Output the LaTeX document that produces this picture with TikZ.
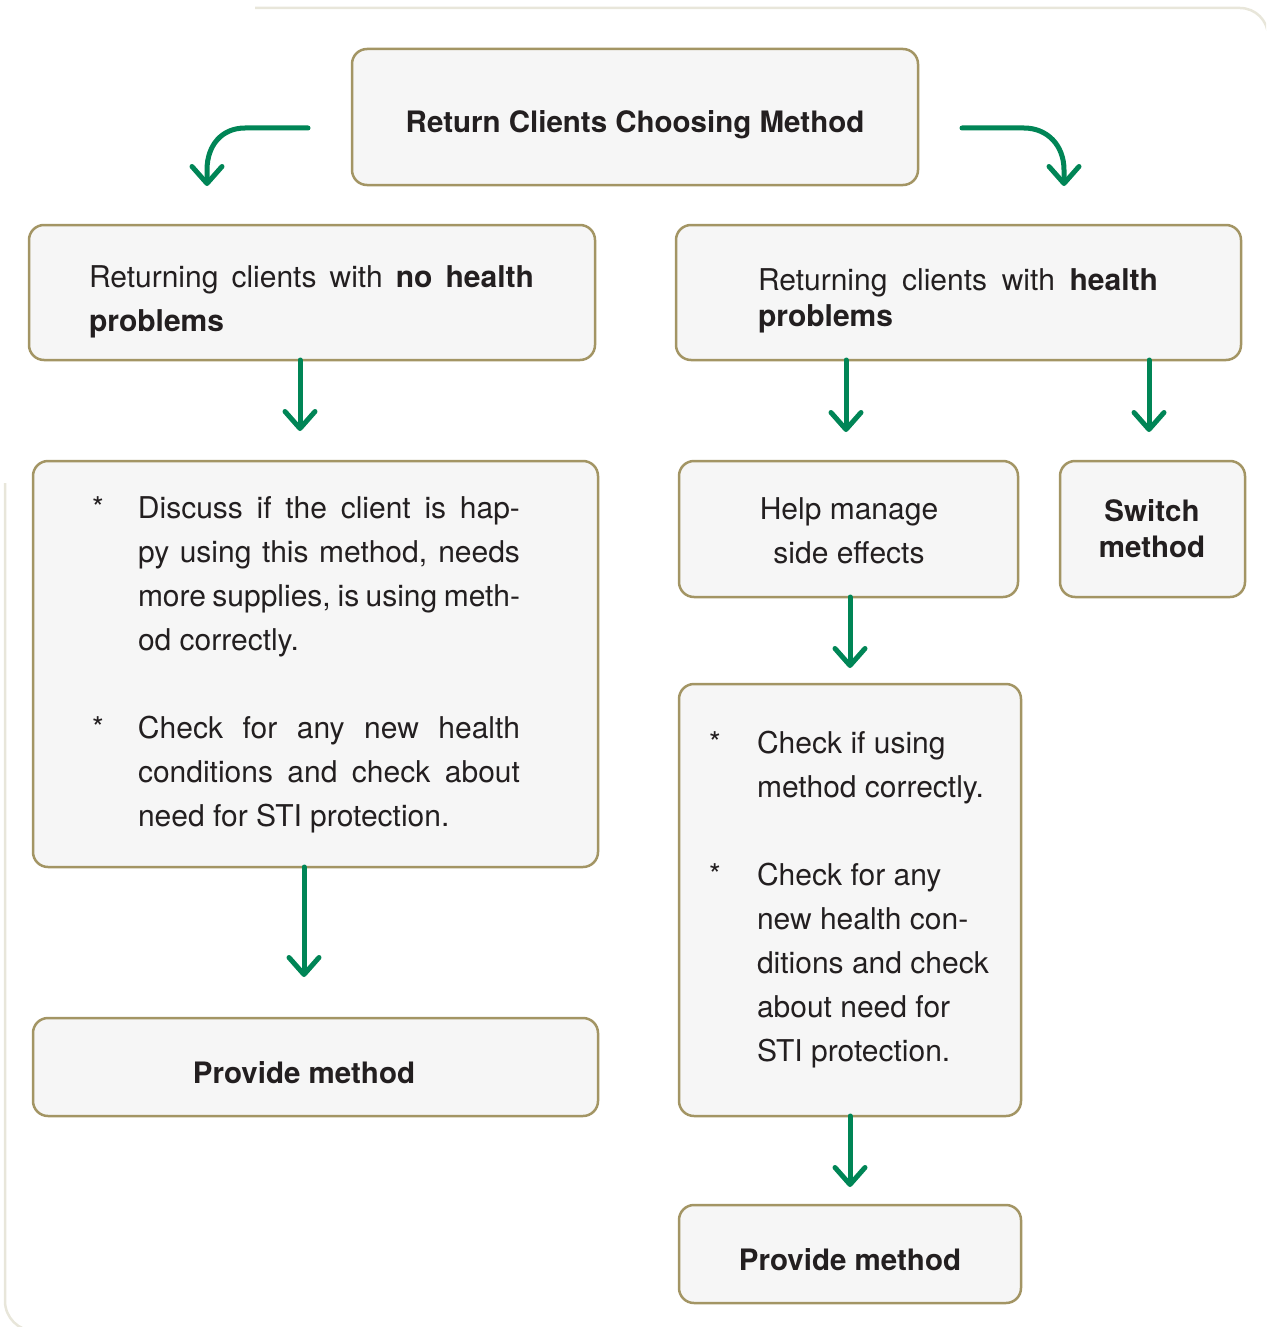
\documentclass[tikz,border=0pt]{standalone}
\usepackage{fontspec}
\setmainfont{TeX Gyre Heros}
\usetikzlibrary{arrows.meta}
\definecolor{arrgreen}{HTML}{008556}
\definecolor{boxline}{HTML}{A39564}
\definecolor{boxfill}{HTML}{F6F6F6}
\definecolor{frameline}{HTML}{E8E6DA}
\definecolor{txt}{HTML}{231F20}
\newcommand{\jline}[2]{\makebox[#1][s]{#2}}
\begin{document}
\begin{tikzpicture}[x=1pt,y=-1pt,
  boxnode/.style={draw=boxline,fill=boxfill,line width=2.5pt,rounded corners=15pt,
    inner sep=0pt,outer sep=0pt,anchor=north west},
  txtnode/.style={inner sep=0pt,outer sep=0pt,text=txt,font=\fontsize{30}{44}\selectfont},
  boldtxt/.style={inner sep=0pt,outer sep=0pt,text=txt,font=\fontsize{29.5}{36}\selectfont\bfseries},
  arr/.style={draw=arrgreen,line width=5pt,line cap=round,
    -{Straight Barb[length=17pt,width=30pt,round]}}]
\useasboundingbox (0,0) rectangle (1266,1327);
% background frame
\begin{scope}
\clip (0,0) rectangle (1266,1327);
\draw[frameline,line width=2.5pt,rounded corners=28pt] (255,8) -- (1268,8) -- (1268,500);
\draw[frameline,line width=2.5pt,rounded corners=30pt] (5,483) -- (5,1331) -- (80,1331);
\end{scope}
% boxes
\node[boxnode,minimum width=566pt,minimum height=136pt] (b0) at (352,49) {};
\node[boxnode,minimum width=566pt,minimum height=135pt] (b1) at (29,225) {};
\node[boxnode,minimum width=565pt,minimum height=135pt] (b2) at (676,225) {};
\node[boxnode,minimum width=565pt,minimum height=406pt] (b3) at (33,461) {};
\node[boxnode,minimum width=339pt,minimum height=136pt] (b4) at (679,461) {};
\node[boxnode,minimum width=185pt,minimum height=136pt] (b5) at (1060,461) {};
\node[boxnode,minimum width=342pt,minimum height=432pt] (b6) at (679,684) {};
\node[boxnode,minimum width=565pt,minimum height=98pt] (b7) at (33,1018) {};
\node[boxnode,minimum width=342pt,minimum height=98pt] (b8) at (679,1205) {};
% texts
\node[boldtxt,anchor=base] (t0) at (635,132) {Return Clients Choosing Method};
\node[txtnode,anchor=base west] (t1) at (89,287) {\parbox[t]{445pt}{\jline{445pt}{Returning clients with \textbf{no health}}\\\textbf{problems}}};
\node[txtnode,anchor=base west,font=\fontsize{30}{36}\selectfont] (t2) at (758,290) {\parbox[t]{400pt}{\jline{400pt}{Returning clients with \textbf{health}}\\\textbf{problems}}};
\node[txtnode,anchor=base west] (t3) at (92,518) {\parbox[t]{428pt}{%
\makebox[46pt][l]{*}\jline{382pt}{Discuss if the client is hap-}\\
\hspace*{46pt}\jline{382pt}{py using this method, needs}\\
\hspace*{46pt}\jline{382pt}{more supplies, is using meth-}\\
\hspace*{46pt}od correctly.\\[44pt]
\makebox[46pt][l]{*}\jline{382pt}{Check for any new health}\\
\hspace*{46pt}\jline{382pt}{conditions and check about}\\
\hspace*{46pt}need for STI protection.}};
\node[txtnode,anchor=base] (t4) at (849,519) {\parbox[t]{300pt}{\centering Help manage\\side effects}};
\node[boldtxt,anchor=base] (t5) at (1152,521) {\parbox[t]{170pt}{\centering Switch\\method}};
\node[txtnode,anchor=base west] (t6) at (709,753) {\parbox[t]{300pt}{%
\makebox[48pt][l]{*}Check if using\\
\hspace*{48pt}method correctly.\\[44pt]
\makebox[48pt][l]{*}Check for any\\
\hspace*{48pt}new health con-\\
\hspace*{48pt}ditions and check\\
\hspace*{48pt}about need for\\
\hspace*{48pt}STI protection.}};
\node[boldtxt,anchor=base] (t7) at (304,1083) {Provide method};
\node[boldtxt,anchor=base] (t8) at (850,1270) {Provide method};
% arrow coordinates
\coordinate (cl1) at (308,128);
\coordinate (cl2) at (207,186);
\coordinate (cr1) at (962,128);
\coordinate (cr2) at (1064,186);
\coordinate (a1) at (300,431);
\coordinate (a2) at (846,432);
\coordinate (a3) at (1149,432);
\coordinate (a4) at (850,668);
\coordinate (a5) at (304,977);
\coordinate (a6) at (850,1187);
% arrows
\draw[arr] (cl1) -- (245,128) .. controls (222,128) and (207,145) .. (207,170) -- (cl2);
\draw[arr] (cr1) -- (1024,128) .. controls (1047,128) and (1064,145) .. (1064,170) -- (cr2);
\draw[arr] (b1.south -| a1) -- (a1);
\draw[arr] (b2.south -| a2) -- (a2);
\draw[arr] (b2.south -| a3) -- (a3);
\draw[arr] (b4.south -| a4) -- (a4);
\draw[arr] (b3.south -| a5) -- (a5);
\draw[arr] (b6.south -| a6) -- (a6);
\end{tikzpicture}
\end{document}
